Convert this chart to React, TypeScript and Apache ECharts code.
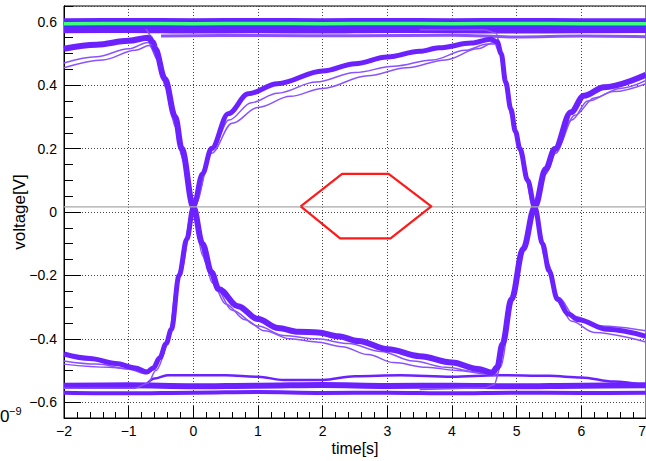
import React, { useEffect, useRef } from "react";
import * as echarts from "echarts";

// ---- axes ----
const timeMin = -2;
const timeMax = 7;
const voltMin = -0.65;
const voltMax = 0.65;
const crossingLevel = 0.016;

// ---- eye mask (red hexagon) ----
const maskPoints: number[][] = [
  [1.66, 0.018], [2.3, 0.12], [3.02, 0.12], [3.68, 0.018],
  [3.05, -0.083], [2.27, -0.083], [1.66, 0.018],
];

// ---- constant rails ----
const topRail: number[][] = [[-2, 0.594], [-1, 0.595], [0, 0.594], [1, 0.595], [2, 0.594], [3, 0.595], [4, 0.594], [5, 0.595], [6, 0.594], [7, 0.594]];
const topSecond: number[][] = [[-2, 0.572], [-1, 0.573], [0, 0.571], [1, 0.572], [2, 0.571], [3, 0.573], [4, 0.572], [5, 0.571], [6, 0.572], [7, 0.573]];
const topThird: number[][] = [[-0.5, 0.555], [1, 0.557], [2.5, 0.556], [4, 0.558], [5, 0.552], [6, 0.555], [7, 0.553]];
const bottomRailA: number[][] = [[-2, -0.548], [-1, -0.547], [0, -0.55], [1, -0.548], [2, -0.546], [3, -0.549], [4, -0.548], [5, -0.55], [6, -0.548], [7, -0.547]];
const bottomRailB: number[][] = [[-2, -0.57], [-1, -0.572], [0, -0.57], [1, -0.568], [2, -0.571], [3, -0.57], [4, -0.572], [5, -0.57], [6, -0.571], [7, -0.57]];
const lowerSecond: number[][] = [[-0.75, -0.55], [-0.6, -0.525], [-0.4, -0.515], [0.5, -0.515], [1.0, -0.52], [1.4, -0.53], [2.0, -0.53], [2.5, -0.518], [3.2, -0.515], [4, -0.52], [4.7, -0.515], [5.5, -0.517], [6, -0.522], [6.5, -0.535], [7, -0.548]];

// ---- transitions: rise at 0, high plateau, fall at 5.3 ----
const upperEyeMain: number[][] = [
  [-2, -0.448], [-1.6, -0.462], [-1.2, -0.478], [-0.9, -0.492], [-0.72, -0.505], [-0.62, -0.492],
  [-0.52, -0.46], [-0.42, -0.415], [-0.34, -0.37], [-0.22, -0.2], [-0.1, -0.085], [0, 0.016],
  [0.14, 0.12], [0.28, 0.2], [0.54, 0.31], [0.85, 0.373], [1.3, 0.405], [2, 0.445], [2.5, 0.468],
  [3, 0.489], [3.5, 0.507], [3.8, 0.518], [4.3, 0.533], [4.6, 0.545], [4.7, 0.537], [4.76, 0.5],
  [4.83, 0.41], [4.91, 0.325], [4.98, 0.255], [5.05, 0.2], [5.17, 0.1], [5.28, 0.016], [5.4, -0.1],
  [5.5, -0.185], [5.63, -0.275], [5.8, -0.322], [5.95, -0.34], [6.4, -0.37], [7, -0.392],
];
const upperEyeThin1: number[][] = [
  [-2, -0.47], [-1.5, -0.48], [-1, -0.495], [-0.75, -0.51], [-0.6, -0.497], [-0.48, -0.455], [-0.36, -0.38],
  [-0.2, -0.19], [0.02, 0.02], [0.3, 0.2], [0.55, 0.29], [0.9, 0.345], [1.3, 0.375], [1.9, 0.41], [2.5, 0.44],
  [3.1, 0.46], [3.7, 0.48], [4.2, 0.51], [4.55, 0.53], [4.7, 0.53], [4.78, 0.48], [4.86, 0.38], [4.95, 0.28],
  [5.08, 0.17], [5.3, -0.01], [5.48, -0.16], [5.65, -0.27], [5.9, -0.33], [6.3, -0.36], [7, -0.375],
];
const upperEyeThin2: number[][] = [
  [-2, -0.48], [-1.3, -0.49], [-0.8, -0.5], [-0.65, -0.5], [-0.5, -0.462], [-0.38, -0.395], [-0.25, -0.22],
  [0, 0.01], [0.28, 0.185], [0.6, 0.28], [1, 0.33], [1.5, 0.365], [2, 0.39], [2.7, 0.43], [3.3, 0.455],
  [3.9, 0.48], [4.4, 0.515], [4.65, 0.535], [4.74, 0.5], [4.82, 0.4], [4.92, 0.3], [5.05, 0.19], [5.28, 0.0],
  [5.45, -0.15], [5.62, -0.28], [5.85, -0.345], [6.2, -0.38], [7, -0.41],
];

// ---- transitions: fall at 0, low plateau, rise at 5.3 ----
const lowerEyeMain: number[][] = [
  [-2, 0.515], [-1.5, 0.528], [-1, 0.54], [-0.7, 0.55], [-0.62, 0.535], [-0.59, 0.515], [-0.44, 0.42],
  [-0.28, 0.3], [-0.18, 0.2], [0, 0.016], [0.14, -0.1], [0.28, -0.19], [0.39, -0.243], [0.69, -0.297],
  [1.0, -0.338], [1.31, -0.366], [1.62, -0.378], [1.93, -0.38], [2.24, -0.392], [2.55, -0.407],
  [3.01, -0.433], [3.5, -0.455], [4, -0.475], [4.4, -0.495], [4.62, -0.507], [4.7, -0.49], [4.78, -0.417],
  [4.92, -0.275], [5.1, -0.117], [5.28, 0.016], [5.45, 0.136], [5.59, 0.199], [5.84, 0.315],
  [6.04, 0.367], [6.35, 0.394], [7, 0.433],
];
const lowerEyeThin1: number[][] = [
  [-2, 0.47], [-1.5, 0.49], [-1, 0.515], [-0.7, 0.535], [-0.58, 0.5], [-0.45, 0.41], [-0.3, 0.29],
  [-0.18, 0.18], [0, 0.0], [0.15, -0.14], [0.3, -0.225], [0.5, -0.29], [0.8, -0.34], [1.1, -0.375],
  [1.5, -0.4], [1.9, -0.41], [2.3, -0.425], [2.7, -0.45], [3.1, -0.475], [3.6, -0.49], [4.1, -0.5],
  [4.5, -0.51], [4.66, -0.515], [4.76, -0.46], [4.86, -0.35], [4.96, -0.24], [5.12, -0.11], [5.28, 0.01],
  [5.45, 0.12], [5.6, 0.185], [5.85, 0.29], [6.1, 0.35], [6.5, 0.38], [7, 0.405],
];
const lowerEyeThin2: number[][] = [
  [-2, 0.455], [-1.4, 0.48], [-0.9, 0.51], [-0.68, 0.525], [-0.55, 0.48], [-0.42, 0.39], [-0.28, 0.27],
  [-0.15, 0.16], [0.02, -0.01], [0.2, -0.16], [0.35, -0.24], [0.6, -0.31], [1, -0.36], [1.4, -0.39],
  [1.9, -0.4], [2.4, -0.415], [2.9, -0.44], [3.4, -0.47], [3.9, -0.49], [4.4, -0.505], [4.64, -0.512],
  [4.74, -0.47], [4.84, -0.37], [4.95, -0.25], [5.1, -0.12], [5.3, 0.02], [5.47, 0.13], [5.62, 0.2],
  [5.9, 0.305], [6.2, 0.36], [6.6, 0.39], [7, 0.415],
];

// ---- rail-to-edge departures ----
const topToFallLeft: number[][] = [[-2, 0.585], [-1, 0.585], [-0.75, 0.58], [-0.65, 0.555], [-0.55, 0.49], [-0.45, 0.425]];
const topToFallRight: number[][] = [[3.5, 0.575], [4.5, 0.575], [4.68, 0.565], [4.76, 0.51], [4.83, 0.42]];
const bottomToRiseLeft: number[][] = [[-2, -0.556], [-0.9, -0.556], [-0.7, -0.54], [-0.58, -0.5], [-0.45, -0.44]];
const bottomToRiseRight: number[][] = [[3.5, -0.56], [4.5, -0.555], [4.65, -0.545], [4.75, -0.49], [4.83, -0.41]];

const PURPLE = "#6c22ff";
const PURPLE_LIGHT = "#8a52ff";
const BLUE = "#2a3cff";
const GREEN = "#3dff7a";
const FONT = "Liberation Sans, Arial, Helvetica, sans-serif";

const minus = (s: string) => s.replace("-", "\u2212");

function lineSeries(data: number[][], color: string, width: number, z: number, smooth = 0.35) {
  return {
    type: "line",
    data,
    symbol: "none",
    smooth,
    smoothMonotone: "x",
    silent: true,
    z,
    lineStyle: { color, width, cap: "butt", join: "round" },
  };
}

export default function App() {
  const ref = useRef<HTMLDivElement>(null);
  useEffect(() => {
    if (!ref.current) return;
    const chart = echarts.init(ref.current, null, { renderer: "svg" });
    const splitLine = { show: true, lineStyle: { color: "#444", width: 1, type: [1, 2] } };
    const option: any = {
      animation: false,
      backgroundColor: "#fff",
      grid: {
        left: 64, top: 6, width: 582, height: 412, containLabel: false, outerBoundsMode: "none",
        show: true, borderColor: "#000", borderWidth: 1, backgroundColor: "transparent",
      },
      xAxis: {
        type: "value",
        min: timeMin,
        max: timeMax,
        interval: 1,
        name: "time[s]",
        nameLocation: "middle",
        nameGap: 22,
        nameMoveOverlap: false,
        nameTextStyle: { fontSize: 16, color: "#000", fontFamily: FONT },
        axisLine: { show: true, onZero: false, lineStyle: { color: "#000", width: 1 } },
        axisTick: { show: true, inside: true, length: 12, lineStyle: { color: "#000" } },
        minorTick: { show: true, splitNumber: 5, length: 6, lineStyle: { color: "#000" } },
        splitLine,
        axisLabel: {
          fontSize: 14, color: "#000", fontFamily: FONT, margin: 6, alignMaxLabel: "right",
          formatter: (v: number) => minus(String(v)),
        },
      },
      yAxis: [
        {
          type: "value",
          position: "left",
          min: voltMin,
          max: voltMax,
          splitNumber: 6,
          name: "voltage[V]",
          nameLocation: "middle",
          nameGap: 36,
          nameRotate: 90,
          nameMoveOverlap: false,
          nameTextStyle: { fontSize: 17, color: "#000", fontFamily: FONT },
          axisLine: { show: true, onZero: false, lineStyle: { color: "#000", width: 1 } },
          axisTick: { show: true, inside: true, length: 17, lineStyle: { color: "#000" } },
          splitLine,
          axisLabel: {
            fontSize: 14, color: "#000", fontFamily: FONT, margin: 7,
            showMinLabel: false, showMaxLabel: false,
            formatter: (v: number) => {
              const r = Math.round(v * 10) / 10;
              if (Math.abs(r) < 1e-9) return "0";
              return minus(String(r));
            },
          },
        },
        {
          type: "value",
          position: "left",
          min: voltMin,
          max: voltMax,
          interval: 0.05,
          axisLine: { show: true, onZero: false, lineStyle: { color: "#000", width: 1 } },
          axisTick: { show: true, inside: true, length: 9, lineStyle: { color: "#000" } },
          splitLine: { show: false },
          axisLabel: { show: false },
        },
      ],
      series: [
        lineSeries(bottomRailB, PURPLE, 4, 2),
        lineSeries(bottomRailA, PURPLE, 6, 2),
        lineSeries(lowerSecond, PURPLE, 2.5, 2),
        lineSeries(topThird, PURPLE_LIGHT, 3, 2),
        lineSeries(topSecond, PURPLE, 5, 2),
        lineSeries(bottomToRiseLeft, PURPLE_LIGHT, 1.5, 3),
        lineSeries(bottomToRiseRight, PURPLE_LIGHT, 1.5, 3),
        lineSeries(topToFallLeft, PURPLE_LIGHT, 1.5, 3),
        lineSeries(topToFallRight, PURPLE_LIGHT, 1.5, 3),
        lineSeries(upperEyeThin1, PURPLE_LIGHT, 1.5, 3),
        lineSeries(upperEyeThin2, PURPLE_LIGHT, 1.5, 3),
        lineSeries(lowerEyeThin1, PURPLE_LIGHT, 1.5, 3),
        lineSeries(lowerEyeThin2, PURPLE_LIGHT, 1.5, 3),
        lineSeries(upperEyeMain, PURPLE, 5, 4),
        lineSeries(lowerEyeMain, PURPLE, 6, 4),
        lineSeries(topRail, PURPLE, 11, 5),
        lineSeries(topRail, BLUE, 6, 6),
        lineSeries(topRail, GREEN, 3.5, 7),
        lineSeries([[timeMin, crossingLevel], [timeMax, crossingLevel]], "#a8a8a8", 1.2, 8, 0),
        lineSeries(maskPoints, "#ff1a1a", 2.2, 9, 0),
      ],
      graphic: [
        { type: "text", x: 0, y: 408, z: 100, style: { text: "0", font: `17px ${FONT}`, align: "left", verticalAlign: "top", fill: "#000" } },
        { type: "text", x: 9, y: 405, z: 100, style: { text: "\u22129", font: `11px ${FONT}`, align: "left", verticalAlign: "top", fill: "#000" } },
      ],
    };
    chart.setOption(option);
    return () => chart.dispose();
  }, []);
  return <div ref={ref} style={{ position: "fixed", left: 0, top: 0, width: 646, height: 461, background: "#fff" }} />;
}
